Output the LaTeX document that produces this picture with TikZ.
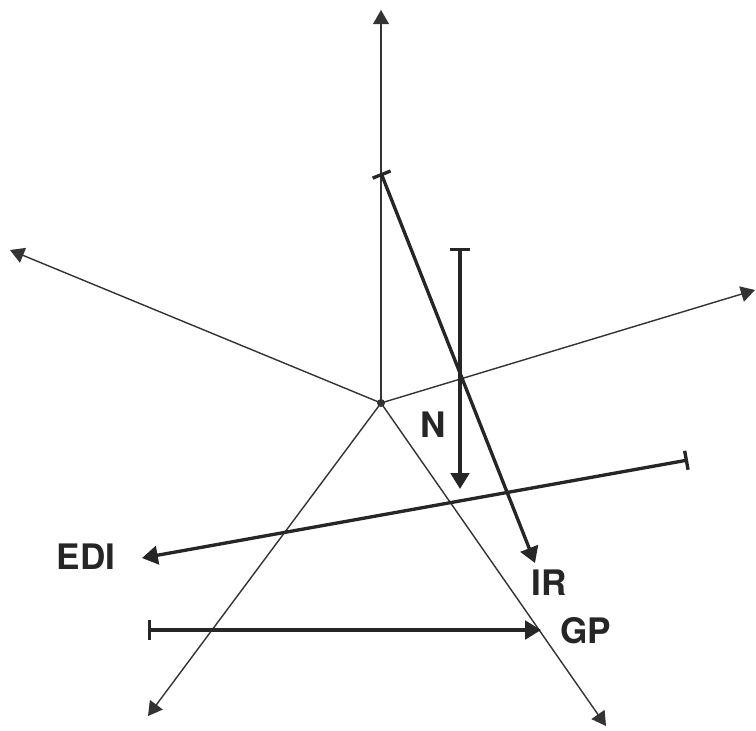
\documentclass[tikz,border=0pt]{standalone}
\usepackage{fontspec}
\setsansfont{TeX Gyre Heros}
\usetikzlibrary{arrows.meta}

\begin{document}
\begin{tikzpicture}[x=0.02cm, y=-0.02cm,
    ray/.style={-{Triangle[length=8pt, width=9pt]}, line width=0.8pt, black!80},
    force/.style={{Bar[width=11pt]}-{Triangle[length=9pt, width=10.5pt]}, line width=1.9pt, black!85},
    lab/.style={font=\sffamily\bfseries\fontsize{20}{24}\selectfont, text=black!85}]
    \useasboundingbox (0,0) rectangle (756,730);

    % Common point and thin rays
    \coordinate (O) at (381,403);
    \fill[black!80] (O) circle (4);
    \coordinate (up) at (381,10);
    \coordinate (ul) at (10,250);
    \coordinate (ur) at (755,290);
    \coordinate (dl) at (148,716);
    \coordinate (dr) at (606,726);
    \foreach \r in {up, ul, ur, dl, dr}
        \draw[ray] (O) -- (\r);

    % Labels
    \node[lab] (n)   at (433,425) {N};
    \node[lab] (edi) at (86,557)  {EDI};
    \node[lab] (ir)  at (549,583) {IR};
    \node[lab] (gp)  at (586,631) {GP};

    % Thick vectors
    \coordinate (irA)  at (381,173);
    \coordinate (irB)  at (535,563);
    \coordinate (nA)   at (460,248);
    \coordinate (nB)   at (460,489);
    \coordinate (ediA) at (688,460);
    \coordinate (ediB) at (142,558);
    \coordinate (gpA)  at (148,630);
    \coordinate (gpB)  at (541,630);
    \draw[force] (irA)  -- (irB);
    \draw[force] (nA)   -- (nB);
    \draw[force] (ediA) -- (ediB);
    \draw[force] (gpA)  -- (gpB);
\end{tikzpicture}
\end{document}
